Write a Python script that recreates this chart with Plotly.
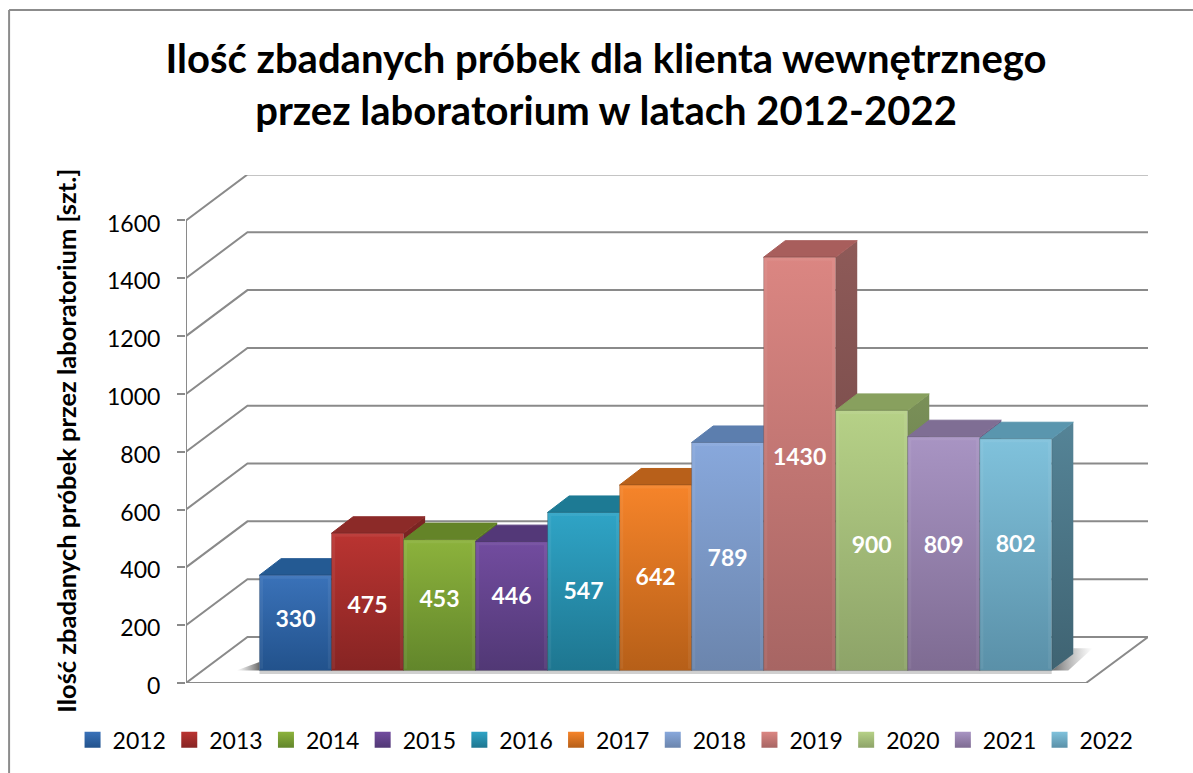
import plotly.graph_objects as go

# ---- data ----
years = ["2012", "2013", "2014", "2015", "2016", "2017", "2018", "2019", "2020", "2021", "2022"]
samples = [330, 475, 453, 446, 547, 642, 789, 1430, 900, 809, 802]
label_y = [214, 262, 283, 293, 311, 359, 425, 773, 469, 469, 473]
y_ticks = [0, 200, 400, 600, 800, 1000, 1200, 1400, 1600]

front_top = ["#3a72b9", "#ba3431", "#8cb23c", "#724c9f", "#2fa4c6", "#f6842a", "#88a8dc", "#db8682", "#b6d187", "#a894c3", "#80c2dc"]
front_bot = ["#22528c", "#862423", "#62862b", "#513875", "#1e7690", "#b65f18", "#6b85ad", "#a76563", "#8da368", "#7e6b92", "#5a90a8"]
top_face = ["#245a93", "#8c2a28", "#648428", "#533878", "#1d7a94", "#b8601a", "#5c7eae", "#a85e5c", "#88a05e", "#7f6e94", "#5a96ae"]
side_top = ["#1f4f84", "#7c2523", "#587522", "#4a316a", "#1a6c84", "#a35517", "#52709b", "#8e5a58", "#7a9058", "#715f85", "#558497"]
side_bot = ["#173b63", "#5d1c1a", "#42581a", "#372550", "#135163", "#7a4011", "#3d5474", "#6a4342", "#5b6c42", "#554764", "#3f6372"]

TITLE = "Ilość zbadanych próbek dla klienta wewnętrznego<br>przez laboratorium w latach 2012-2022"
Y_TITLE = "Ilość zbadanych próbek przez laboratorium [szt.]"

# ---- geometry in data units (x: bar widths, y: axis values) ----
W, H = 1193, 773
L, R, T, B = 185.5, 1148.0, 175.0, 682.7
BAR_PX = 72.06
X0_PX = 259.0
xr = [(L - X0_PX) / BAR_PX, (R - X0_PX) / BAR_PX]
yr = [0, (B - T) / 0.2889]
WALL_DX = 61.5 / BAR_PX
WALL_DY = 46.0 / 0.2889
FLOOR_W = (1086 - L) / BAR_PX
BAR_DX = 21.6 / BAR_PX
BAR_DY = 16.5 / 0.2889
BASE = 43
GRID = "#8a8a8a"
FONT = "Lato"

fig = go.Figure()


def poly(xs, ys, **kw):
    fig.add_trace(go.Scatter(x=xs, y=ys, mode="lines", hoverinfo="skip", showlegend=False, **kw))


def vgrad(c_top, c_bot):
    return dict(type="vertical", colorscale=[[0, c_bot], [1, c_top]])


def px(x):
    return (x - L) / (R - L)


def py(y):
    return (B - y) / (B - T)


# walls
xl = xr[0]
for v in y_ticks[1:]:
    poly([xl, xl + WALL_DX, xr[1]], [v, v + WALL_DY, v + WALL_DY], line=dict(color=GRID, width=2))
poly([xl, xl], [0, y_ticks[-1]], line=dict(color=GRID, width=2))
poly([xl, xl + FLOOR_W, xr[1], xl + WALL_DX, xl],
     [0, 0, WALL_DY, WALL_DY, 0], line=dict(color=GRID, width=2))

# floor shadows
poly([-0.32, 0, 0, -0.32], [BASE, BASE, BASE + 30, BASE], line=dict(width=0), fill="toself",
     fillgradient=dict(type="horizontal", colorscale=[[0, "rgba(120,120,120,0)"], [1, "rgba(80,80,80,0.85)"]]))
poly([11, 11.3, 11.3, 11.57, 11.23, 11], [BASE, 103, 120, 120, BASE, BASE], line=dict(width=0), fill="toself",
     fillgradient=dict(type="horizontal", colorscale=[[0, "rgba(80,80,80,0.85)"], [1, "rgba(140,140,140,0)"]]))
poly([0, 11], [BASE - 5, BASE - 5], line=dict(color="rgba(150,150,150,0.45)", width=4))

# bars
for i, v in enumerate(samples):
    x0, x1 = i, i + 1
    top = BASE + v
    poly([x1, x1 + BAR_DX, x1 + BAR_DX, x1, x1],
         [BASE, BASE + BAR_DY, top + BAR_DY, top, BASE],
         fill="toself", line=dict(width=0), fillgradient=vgrad(side_top[i], side_bot[i]))
    poly([x0, x0 + BAR_DX, x1 + BAR_DX, x1, x0],
         [top, top + BAR_DY, top + BAR_DY, top, top],
         fill="toself", fillcolor=top_face[i], line=dict(color=top_face[i], width=1))
    poly([x0, x1, x1, x0, x0], [BASE, BASE, top, top, BASE],
         fill="toself", fillgradient=vgrad(front_top[i], front_bot[i]),
         line=dict(color="rgba(40,40,40,0.22)", width=1))
    # soft bevel along the top and side edges of the front face
    poly([x0 + 0.03, x0 + 0.03, x1 - 0.03, x1 - 0.03], [BASE + 6, top - 7, top - 7, BASE + 6],
         line=dict(color="rgba(255,255,255,0.06)", width=3))

# data labels
fig.add_trace(go.Scatter(x=[i + 0.5 for i in range(len(years))], y=label_y, mode="text",
                         text=[str(s) for s in samples], textposition="middle center",
                         textfont=dict(family=FONT, size=23, color="white", weight="bold"),
                         hoverinfo="skip", showlegend=False))

# legend
for i, year in enumerate(years):
    fig.add_trace(go.Scatter(x=[None], y=[None], mode="markers", name=year,
                             marker=dict(symbol="square", size=16, color=front_top[i],
                                         gradient=dict(type="vertical", color=front_bot[i]))))

fig.update_layout(
    width=W, height=H,
    margin=dict(l=L, r=W - R, t=T, b=H - B, autoexpand=False),
    paper_bgcolor="white", plot_bgcolor="white",
    showlegend=True,
    title=dict(text=TITLE, x=606 / W, xanchor="center", y=0.906, yanchor="middle",
               font=dict(family=FONT, size=40, color="black", weight="bold")),
    font=dict(family=FONT, color="black"),
    xaxis=dict(range=xr, visible=False, fixedrange=True),
    yaxis=dict(range=yr, tickvals=y_ticks, ticks="outside", ticklen=8, tickcolor=GRID, tickwidth=2,
               ticklabelstandoff=12, ticklabelshift=3,
               tickfont=dict(family=FONT, size=23, color="black"), showgrid=False, showline=False,
               zeroline=False, fixedrange=True),
    annotations=[dict(text=Y_TITLE, xref="paper", yref="paper", x=px(66), y=py(441), textangle=-90,
                      showarrow=False, xanchor="center", yanchor="middle",
                      font=dict(family=FONT, size=25.5, color="black", weight="bold"))],
    legend=dict(orientation="h", x=px(72), y=py(761), xanchor="left", yanchor="bottom",
                entrywidth=51.7, entrywidthmode="pixels", bgcolor="rgba(0,0,0,0)",
                font=dict(family=FONT, size=23, color="black"), itemclick=False, itemdoubleclick=False),
    shapes=[dict(type="line", xref="paper", yref="paper", x0=px(8.5), x1=px(8.5), y0=py(773), y1=py(10),
                 line=dict(color="#8c8c8c", width=2)),
            dict(type="line", xref="paper", yref="paper", x0=px(8.5), x1=px(1193), y0=py(10), y1=py(10),
                 line=dict(color="#8c8c8c", width=2))],
)

fig.write_html("out.html", config={"displayModeBar": False}, post_script="document.body.style.margin='0';")
